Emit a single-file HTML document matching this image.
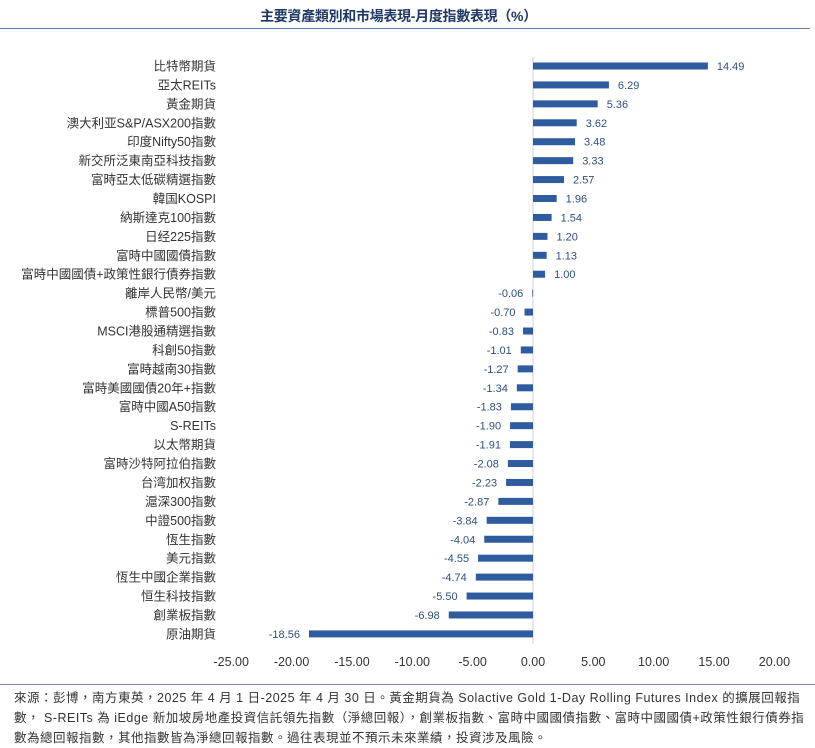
<!DOCTYPE html>
<html><head><meta charset="utf-8"><style>
body{margin:0;width:815px;height:743px;background:#fff;font-family:"Liberation Sans","Noto Sans CJK TC",sans-serif;overflow:hidden;position:relative}
#title{position:absolute;left:0;width:815px;top:6px;text-align:center;font-size:14px;font-weight:bold;color:#1f3864;padding-right:18px;box-sizing:border-box;letter-spacing:-0.3px}
#rule{position:absolute;left:0;top:28px;width:810px;height:1px;background:#5a7ab0}
#foot{position:absolute;left:0;top:684px;width:815px;border-top:1px solid #7a8fb5;padding:3px 0 0 14px;box-sizing:border-box;font-size:12.5px;line-height:20px;color:#333;white-space:nowrap;overflow:hidden;letter-spacing:0.5px}
svg{position:absolute;left:0;top:0}
</style></head><body>
<div id="title">主要資產類別和市場表現-月度指數表現（%）</div>
<div id="rule"></div>
<svg id="chart" width="815" height="680"></svg>
<div id="foot">來源：彭博，南方東英，2025 年 4 月 1 日-2025 年 4 月 30 日。黃金期貨為 Solactive Gold 1-Day Rolling Futures Index 的擴展回報指<br>數，  S-REITs 為 iEdge 新加坡房地產投資信託領先指數（淨總回報），創業板指數、富時中國國債指數、富時中國國債+政策性銀行債券指<br>數為總回報指數，其他指數皆為淨總回報指數。過往表現並不預示未來業績，投資涉及風險。</div>
<script>
const categories=["比特幣期貨","亞太REITs","黃金期貨","澳大利亚S&P/ASX200指數","印度Nifty50指數","新交所泛東南亞科技指數","富時亞太低碳精選指數","韓国KOSPI","納斯達克100指數","日经225指數","富時中國國債指數","富時中國國債+政策性銀行債券指數","離岸人民幣/美元","標普500指數","MSCI港股通精選指數","科創50指數","富時越南30指數","富時美國國債20年+指數","富時中國A50指數","S-REITs","以太幣期貨","富時沙特阿拉伯指數","台湾加权指數","滬深300指數","中證500指數","恆生指數","美元指數","恆生中國企業指數","恒生科技指數","創業板指數","原油期貨"];
const values=[14.49,6.29,5.36,3.62,3.48,3.33,2.57,1.96,1.54,1.20,1.13,1.00,-0.06,-0.70,-0.83,-1.01,-1.27,-1.34,-1.83,-1.90,-1.91,-2.08,-2.23,-2.87,-3.84,-4.04,-4.55,-4.74,-5.50,-6.98,-18.56];
const ticks=[-25,-20,-15,-10,-5,0,5,10,15,20];
const NS="http://www.w3.org/2000/svg";
const svg=document.getElementById('chart');
const x=v=>533+v*12.07;
const y=i=>66+i*18.93;
function mk(t,a){const e=document.createElementNS(NS,t);for(const k in a)e.setAttribute(k,a[k]);svg.appendChild(e);return e;}
const ax=mk('line',{x1:x(0),x2:x(0),y1:57,y2:644,stroke:'#d0d0d0','stroke-width':1});


ticks.forEach(t=>{const e=mk('text',{x:x(t),y:666,'text-anchor':'middle','font-size':12.5,fill:'#333'});e.textContent=t.toFixed(2);

});
categories.forEach((c,i)=>{
const v=values[i];
const l=mk('text',{x:216,y:y(i)+4.5,'text-anchor':'end','font-size':12.5,fill:'#333'});l.textContent=c;


const b=mk('rect',{x:Math.min(x(0),x(v)),y:y(i)-3.5,width:Math.max(Math.abs(x(v)-x(0)),0.8),height:7,fill:'#2f5c9e'});


const t=mk('text',{x:v>=0?x(v)+9:x(v)-9,y:y(i)+4,'text-anchor':v>=0?'start':'end','font-size':11,fill:'#2f4f80'});t.textContent=v.toFixed(2);


});
</script>
</body></html>
